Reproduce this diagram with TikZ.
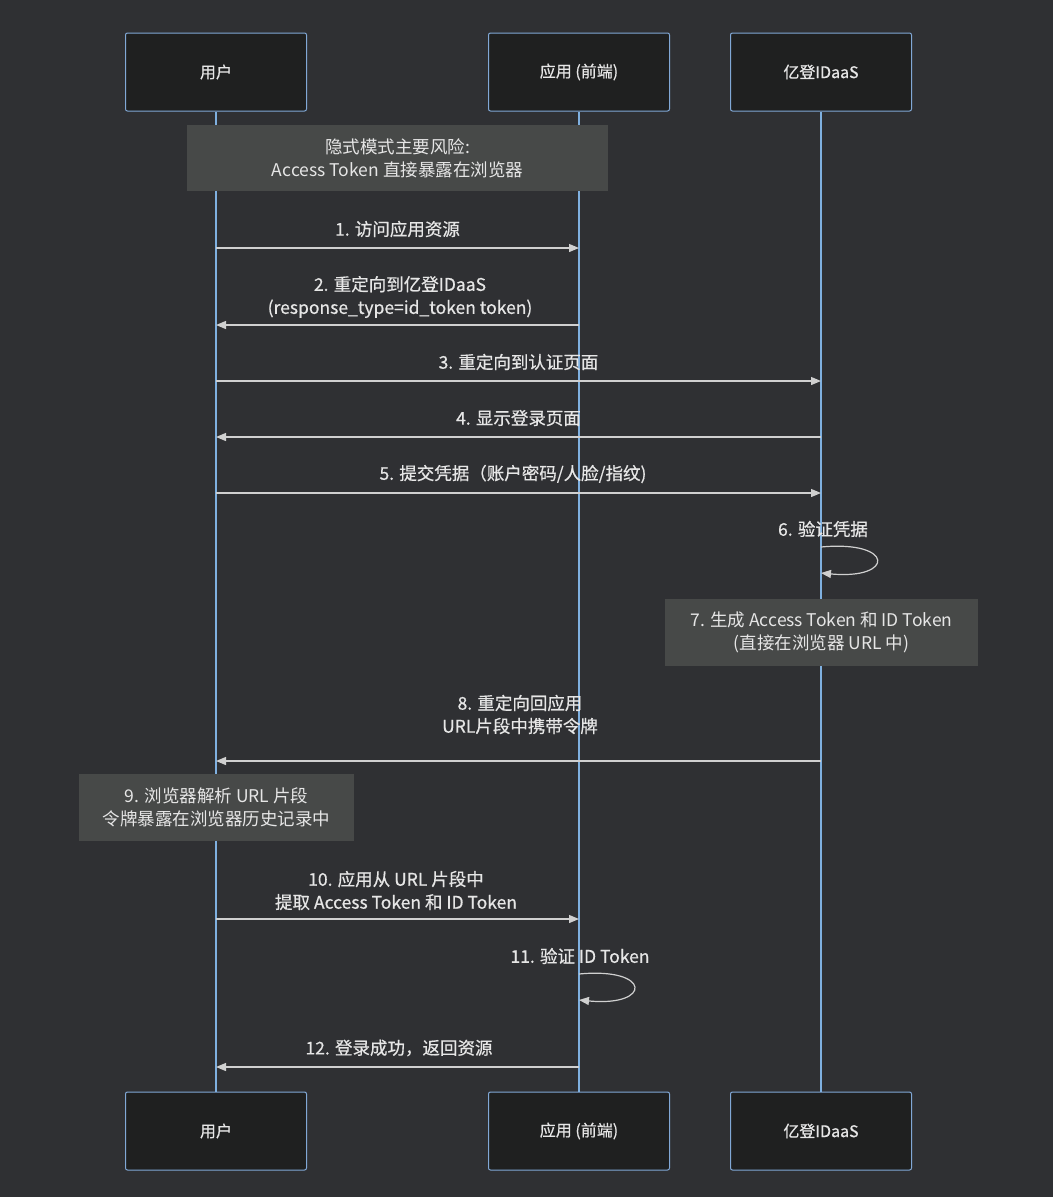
\documentclass[tikz,border=0pt]{standalone}
\usepackage{fontspec}
\setmainfont{Noto Sans CJK SC}
\newfontfamily\msgfont[FakeBold=0.6]{Noto Sans CJK SC}
\usetikzlibrary{arrows.meta}
\definecolor{bg}{HTML}{2F3033}
\definecolor{actfill}{HTML}{1F2020}
\definecolor{actline}{HTML}{81A8D6}
\definecolor{life}{HTML}{7FB0E0}
\definecolor{notefill}{HTML}{474948}
\definecolor{txt}{HTML}{E6E6E6}
\definecolor{arr}{HTML}{D0D0D0}
\begin{document}
\begin{tikzpicture}[x=1pt,y=-1pt,
 actor/.style={draw=actline,fill=actfill,minimum width=181pt,minimum height=78pt,rounded corners=2pt,text=txt,font=\msgfont\fontsize{16}{18}\selectfont,line width=1pt},
 note/.style={fill=notefill,text=txt,align=center,font=\fontsize{17.5}{23}\selectfont,inner sep=0pt},
 lbl/.style={text=txt,align=center,font=\msgfont\fontsize{17.5}{23}\selectfont},
 msg/.style={draw=arr,line width=1.2pt,-{Triangle[length=10pt,width=8pt]}},
 lifeline/.style={draw=life,line width=1.5pt}]
\fill[bg] (0,0) rectangle (1053,1197);
\node[actor] (a1) at (216,72) {用户};
\node[actor] (a2) at (579,72) {应用 (前端)};
\node[actor] (a3) at (821,72) {亿登IDaaS};
\node[actor] (b1) at (216,1131) {用户};
\node[actor] (b2) at (579,1131) {应用 (前端)};
\node[actor] (b3) at (821,1131) {亿登IDaaS};
\draw[lifeline] (a1) -- (b1);
\draw[lifeline] (a2) -- (b2);
\draw[lifeline] (a3) -- (b3);
\node[note,minimum width=421pt,minimum height=66pt] (n1) at (397.5,158) {隐式模式主要风险:\\Access Token 直接暴露在浏览器};
\foreach \n/\y in {1/248,2/325,3/381,4/437,5/493,8/761,10/919,12/1067}{
 \coordinate (u\n) at (216,\y); \coordinate (f\n) at (579,\y); \coordinate (i\n) at (821,\y);}
\draw[msg] (u1) -- (f1); \node[lbl] at (397.5,229) {1. 访问应用资源};
\draw[msg] (f2) -- (u2); \node[lbl] at (400,297) {2. 重定向到亿登IDaaS\\(response\_type=id\_token token)};
\draw[msg] (u3) -- (i3); \node[lbl] at (518.5,362) {3. 重定向到认证页面};
\draw[msg] (i4) -- (u4); \node[lbl] at (518.5,418) {4. 显示登录页面};
\draw[msg] (u5) -- (i5); \node[lbl] at (513,474) {5. 提交凭据（账户密码/人脸/指纹)};
\coordinate (s6a) at (821,547); \coordinate (s6b) at (821,573);
\draw[msg] (s6a) .. controls (895,540) and (895,580) .. (s6b);
\node[lbl] at (823,529) {6. 验证凭据};
\node[note,minimum width=313pt,minimum height=67pt] (n7) at (821.5,632.5) {7. 生成 Access Token 和 ID Token\\(直接在浏览器 URL 中)};
\draw[msg] (i8) -- (u8); \node[lbl] at (520,714.5) {8. 重定向回应用\\URL片段中携带令牌};
\node[note,minimum width=275pt,minimum height=67pt] (n9) at (216.5,807.5) {9. 浏览器解析 URL 片段\\令牌暴露在浏览器历史记录中};
\draw[msg] (u10) -- (f10); \node[lbl] at (396,890.5) {10. 应用从 URL 片段中\\提取 Access Token 和 ID Token};
\coordinate (s11a) at (579,974); \coordinate (s11b) at (579,1000);
\draw[msg] (s11a) .. controls (652,967) and (652,1007) .. (s11b);
\node[lbl] at (580,956) {11. 验证 ID Token};
\draw[msg] (f12) -- (u12); \node[lbl] at (399,1048) {12. 登录成功，返回资源};
\end{tikzpicture}
\end{document}
